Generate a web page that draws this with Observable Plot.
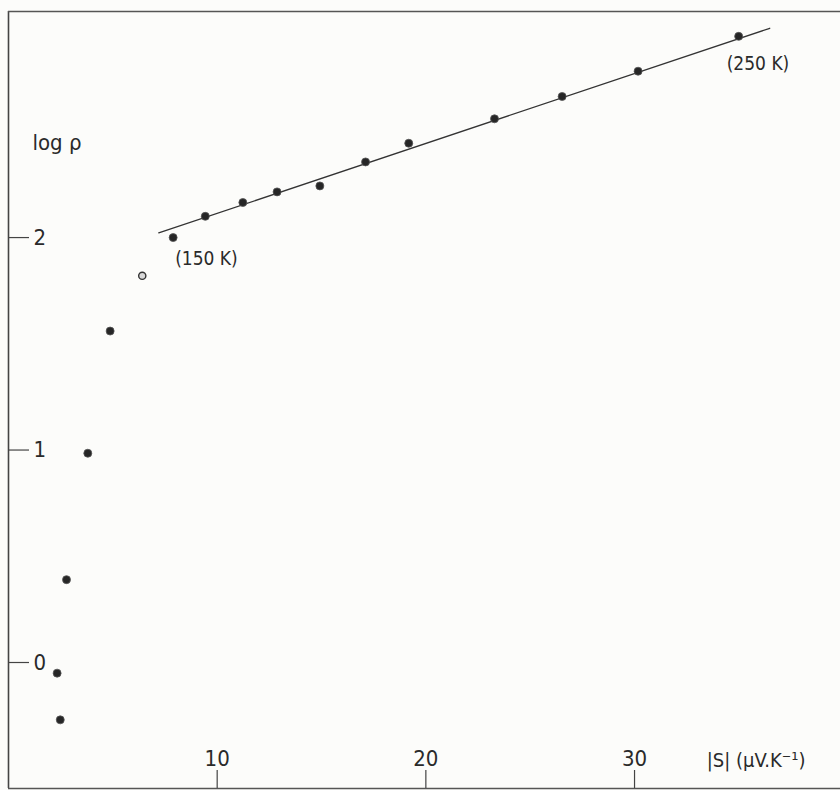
<!DOCTYPE html>
<html><head><meta charset="utf-8">
<script src="https://cdn.jsdelivr.net/npm/d3@7"></script>
<script src="https://cdn.jsdelivr.net/npm/@observablehq/plot@0.6"></script>
<style>
body{margin:0;background:#fcfcfa;}
#chart svg{display:block;background:#fcfcfa;}
</style></head><body><div id="chart"></div>
<script>
// |S| (µV/K) and log rho
const seebeck = [2.33, 2.48, 2.78, 3.80, 4.87, 6.41, 7.89, 9.43, 11.23, 12.87, 14.92, 17.11, 19.18, 23.29, 26.53, 30.17, 34.99];
const logRho  = [-0.05, -0.27, 0.39, 0.985, 1.56, 1.82, 2.00, 2.10, 2.165, 2.215, 2.243, 2.356, 2.444, 2.559, 2.664, 2.783, 2.947];
const openMarker = [false, false, false, false, false, true, false, false, false, false, false, false, false, false, false, false, false];
// straight-line fit drawn on the figure
const fitS = [7.20, 36.48];
const fitLogRho = [2.022, 2.985];
const xTicks = [10, 20, 30];
const yTicks = [0, 1, 2];
const tempText = ["(150 K)", "(250 K)"];
const tempIndex = [6, 16];
const xDomain = [0, 39.87];
const yDomain = [-0.593, 3.064];

const points = seebeck.map((s, i) => ({s, r: logRho[i], open: openMarker[i]}));
const fit = fitS.map((s, i) => ({s, r: fitLogRho[i]}));
const t150 = [{...points[tempIndex[0]], label: tempText[0]}];
const t250 = [{...points[tempIndex[1]], label: tempText[1]}];

const font = "'Liberation Sans Narrow','DejaVu Sans Condensed','Liberation Sans',sans-serif";
const ink = "#2a2a2a";

const chart = Plot.plot({
  width: 840, height: 790,
  marginLeft: 8, marginRight: 0, marginTop: 11, marginBottom: 2,
  x: {domain: xDomain, axis: null, label: null},
  y: {domain: yDomain, axis: null, label: null},
  style: {fontFamily: font, fontSize: "21px", color: ink, background: "#fcfcfa"},
  marks: [
    Plot.ruleX([xDomain[0]], {stroke: "#444", strokeWidth: 1.6}),
    Plot.ruleY([yDomain[0]], {stroke: "#555", strokeWidth: 1.6}),
    Plot.ruleY([yDomain[1]], {stroke: "#555", strokeWidth: 1.4}),
    Plot.axisX(xTicks, {anchor: "bottom", label: null, tickFormat: "d", tickSize: -18, tickPadding: -20, stroke: "#444", strokeWidth: 1.2, fontSize: 22, fill: ink}),
    Plot.axisY(yTicks, {anchor: "left", label: null, tickFormat: "d", tickSize: -21, tickPadding: -4, textAnchor: "start", stroke: "#444", strokeWidth: 1.2, fontSize: 22, fill: ink}),
    Plot.line(fit, {x: "s", y: "r", stroke: "#333", strokeWidth: 1.3}),
    Plot.dot(points.filter(d => !d.open), {x: "s", y: "r", r: 4, fill: "#262626", stroke: "#555", strokeWidth: 0.8}),
    Plot.dot(points.filter(d => d.open), {x: "s", y: "r", r: 3.6, fill: "#d8d8d8", stroke: "#333", strokeWidth: 1.4}),
    Plot.text(t150, {x: "s", y: "r", text: "label", textAnchor: "start", dx: 2, dy: 21, fontSize: 19, fill: ink}),
    Plot.text(t250, {x: "s", y: "r", text: "label", textAnchor: "start", dx: -12, dy: 28, fontSize: 19, fill: ink}),
    Plot.text(["log ρ"], {frameAnchor: "top-left", text: d => d, textAnchor: "start", lineAnchor: "middle", dx: 24, dy: 131, fontSize: 22, fill: ink}),
    Plot.text(["|S| (μV.K⁻¹)"], {frameAnchor: "bottom-right", text: d => d, textAnchor: "end", lineAnchor: "middle", dx: -35, dy: -28, fontSize: 20, fill: ink})
  ]
});
document.getElementById("chart").append(chart);
</script>
</body></html>
